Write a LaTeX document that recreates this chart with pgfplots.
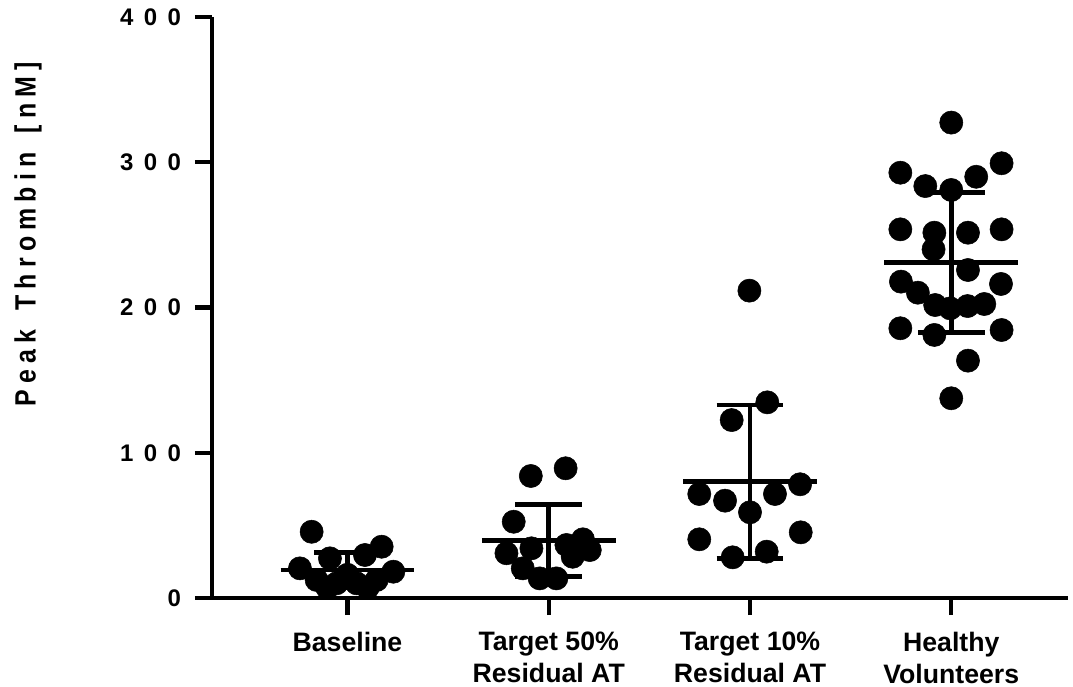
\documentclass[border=0pt]{standalone}
\usepackage{pgfplots}
\pgfplotsset{compat=1.18}
\usepackage{fontspec}
\setmainfont{Liberation Sans}
\newfontfamily\ylabfont[FakeStretch=0.85]{Liberation Sans Bold}
\newcommand\K{\kern4.6pt}
\newcommand\D{\kern7.8pt}
\begin{document}
\begin{tikzpicture}
\begin{axis}[name=ax, scale only axis, width=642pt, height=435.75pt,
  xmin=-0.673, xmax=3.58, ymin=0, ymax=400, clip=false,
  axis lines=left, axis line style={-, line width=3.6pt, black},
  tick align=outside, major tick length=12.75pt,
  tick style={line width=3.2pt, black},
  xtick={0,1,2,3},
  xticklabels={Baseline, Target 50\%\\Residual AT, Target 10\%\\Residual AT, Healthy\\Volunteers},
  xticklabel style={align=center, font=\fontsize{20}{24}\selectfont\bfseries, yshift=-9pt},
  ytick={0,100,200,300,400},
  yticklabels={0, 1\D0\D0, 2\D0\D0, 3\D0\D0, 4\D0\D0},
  yticklabel style={font=\fontsize{18}{20}\selectfont\bfseries, xshift=-7pt},
  ylabel={P\K e\K a\K k\K\ \K T\K h\K r\K o\K m\K b\K i\K n\K\ \K [\K n\K M\K ]},
  ylabel style={font=\fontsize{22}{24}\selectfont\ylabfont, at={(axis description cs:-0.215,0.626)}, anchor=center},
]
% individual values
\addplot[only marks, mark=*, mark size=8.7pt, black] coordinates {
(-0.178,45.6) (0.170,35.3) (-0.087,27.3) (0.087,29.6) (-0.236,20.4) (0.228,18.1)
(-0.153,12.4) (0.145,12.4) (-0.054,10.1) (0.046,10.1) (-0.10,7) (0.10,7) (0.0,16)
};
\addplot[only marks, mark=*, mark size=8.7pt, black] coordinates {
(0.911,84) (1.084,89.3) (0.826,52.5) (0.790,30.8) (0.914,34.2) (1.088,36.5)
(1.170,40.4) (1.204,33) (1.119,28.4) (0.871,20.4) (0.955,13.5) (1.038,13.5)
};
\addplot[only marks, mark=*, mark size=8.7pt, black] coordinates {
(1.997,211.6) (2.086,134.7) (1.909,122.5) (1.748,71.6) (1.876,67) (2.124,71.6)
(2.249,78.3) (2.000,59) (1.748,40.4) (2.252,45.2) (1.914,28) (2.083,31.9)
};
\addplot[only marks, mark=*, mark size=8.7pt, black] coordinates {
(3.000,327.3) (2.747,292.8) (3.250,299.3) (2.871,283.6) (3.000,280.9) (3.124,290)
(2.747,253.8) (2.916,251.5) (3.083,251.5) (3.250,253.8) (2.912,240) (3.083,225.8)
(2.750,217.8) (3.247,216.2) (2.834,210.2) (2.920,201.7) (2.995,199.4) (3.081,201)
(3.164,202.4) (2.747,185.7) (2.916,181.1) (3.250,184.5) (3.083,163.4) (3.000,137.5)
};
% mean lines
\addplot[line width=3.6pt, black] coordinates {(-0.332,19.3) (0.332,19.3)};
\addplot[line width=3.6pt, black] coordinates {(0.668,39.6) (1.332,39.6)};
\addplot[line width=3.6pt, black] coordinates {(1.668,80.1) (2.332,80.1)};
\addplot[line width=3.6pt, black] coordinates {(2.668,230.9) (3.332,230.9)};
% SD whiskers
\addplot[line width=3.6pt, black] coordinates {(0,7.2) (0,31.4)};
\addplot[line width=3.6pt, black] coordinates {(-0.166,31.4) (0.166,31.4)};
\addplot[line width=3.6pt, black] coordinates {(-0.166,7.2) (0.166,7.2)};
\addplot[line width=3.6pt, black] coordinates {(1,14.7) (1,64.5)};
\addplot[line width=3.6pt, black] coordinates {(0.834,64.5) (1.166,64.5)};
\addplot[line width=3.6pt, black] coordinates {(0.834,14.7) (1.166,14.7)};
\addplot[line width=3.6pt, black] coordinates {(2,27.3) (2,132.9)};
\addplot[line width=3.6pt, black] coordinates {(1.834,132.9) (2.166,132.9)};
\addplot[line width=3.6pt, black] coordinates {(1.834,27.3) (2.166,27.3)};
\addplot[line width=3.6pt, black] coordinates {(3,182.9) (3,279)};
\addplot[line width=3.6pt, black] coordinates {(2.834,279) (3.166,279)};
\addplot[line width=3.6pt, black] coordinates {(2.834,182.9) (3.166,182.9)};
\end{axis}
\pgfresetboundingbox
\useasboundingbox ([xshift=-159pt,yshift=-66.75pt]ax.south west) rectangle ([xshift=3.75pt,yshift=12.75pt]ax.north east);
\end{tikzpicture}
\end{document}
